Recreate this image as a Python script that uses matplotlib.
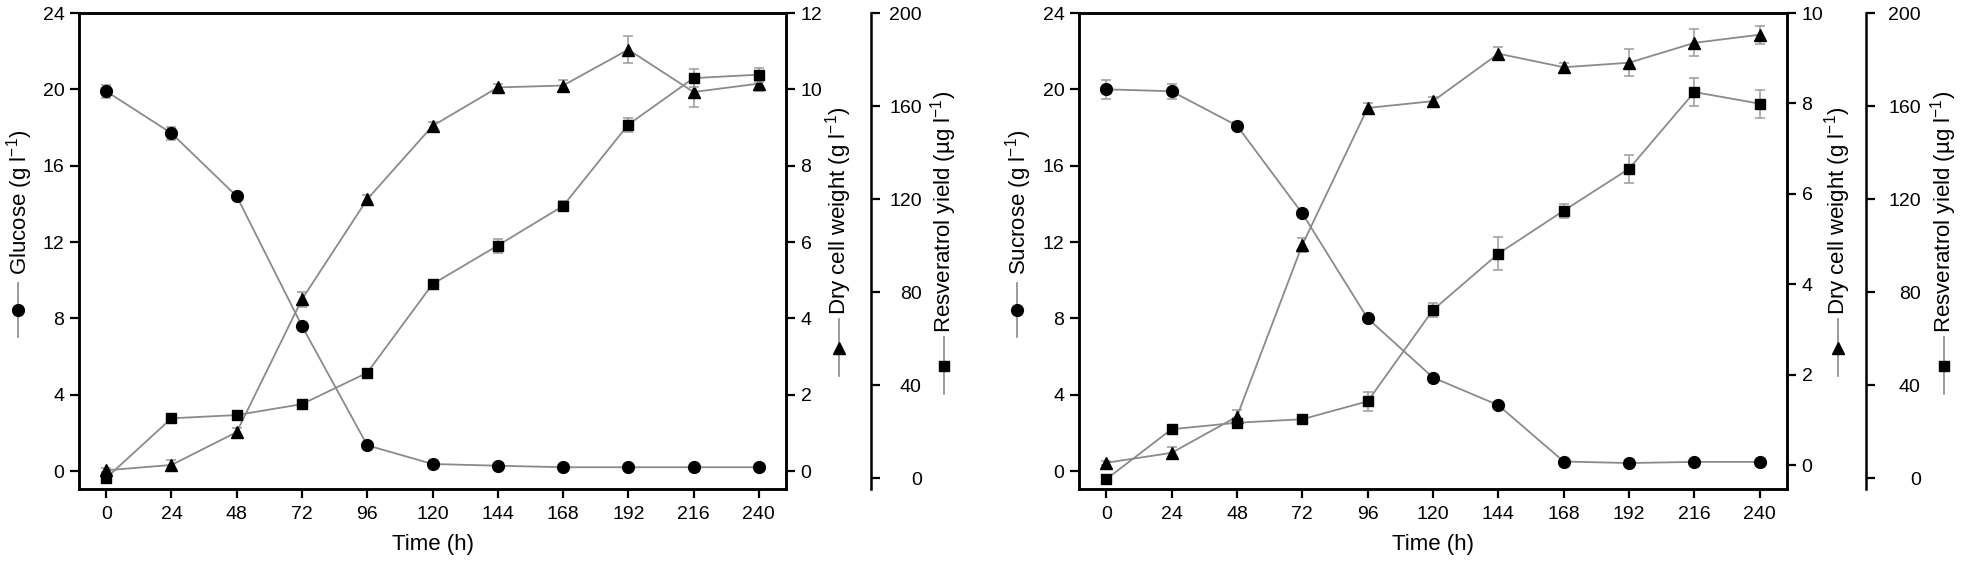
import matplotlib
matplotlib.use("Agg")
import matplotlib.pyplot as plt
from matplotlib.lines import Line2D
import numpy as np

plt.rcParams['font.family'] = ['Liberation Sans', 'DejaVu Sans']
plt.rcParams['mathtext.fontset'] = 'custom'
plt.rcParams['mathtext.rm'] = 'Liberation Sans'
plt.rcParams['mathtext.it'] = 'Liberation Sans'

# ---------------- data ----------------
time_h = [0, 24, 48, 72, 96, 120, 144, 168, 192, 216, 240]
time_ticks = [0, 24, 48, 72, 96, 120, 144, 168, 192, 216, 240]

# Panel A: glucose
glucose = [19.9, 17.7, 14.4, 7.6, 1.35, 0.37, 0.28, 0.2, 0.2, 0.2, 0.2]
glucose_err = [0.35, 0.35, 0.15, 0.15, 0.1, 0.05, 0.05, 0.05, 0.05, 0.05, 0.05]
dcw_a = [0.02, 0.16, 1.02, 4.5, 7.12, 9.04, 10.05, 10.1, 11.04, 9.93, 10.15]
dcw_a_err = [0.05, 0.12, 0.12, 0.2, 0.12, 0.1, 0.1, 0.15, 0.35, 0.4, 0.2]
res_a = [0.0, 25.7, 27.1, 31.8, 45.3, 83.4, 100.0, 117.0, 152.0, 172.0, 173.5]
res_a_err = [0.5, 1.0, 1.0, 1.2, 1.2, 1.5, 3.0, 2.0, 3.0, 4.0, 3.0]

# Panel B: sucrose
sucrose = [20.0, 19.9, 18.1, 13.5, 8.0, 4.9, 3.45, 0.5, 0.42, 0.48, 0.48]
sucrose_err = [0.5, 0.4, 0.2, 0.2, 0.1, 0.2, 0.15, 0.1, 0.1, 0.1, 0.1]
dcw_b = [0.05, 0.27, 1.07, 4.87, 7.9, 8.05, 9.1, 8.8, 8.9, 9.34, 9.52]
dcw_b_err = [0.05, 0.12, 0.15, 0.15, 0.1, 0.1, 0.15, 0.1, 0.3, 0.3, 0.2]
res_b = [-0.5, 21.0, 23.8, 25.3, 33.0, 72.3, 96.5, 115.0, 133.0, 166.0, 161.0]
res_b_err = [0.5, 1.0, 1.5, 1.5, 4.0, 3.0, 7.0, 3.0, 6.0, 6.0, 6.0]

sugar_ticks = [0, 4, 8, 12, 16, 20, 24]
dcw_a_ticks = [0, 2, 4, 6, 8, 10, 12]
dcw_b_ticks = [0, 2, 4, 6, 8, 10]
res_ticks = [0, 40, 80, 120, 160, 200]

W, H = 1961, 562
fig = plt.figure(figsize=(W / 100, H / 100), dpi=100)

LINE_C = '#8a8a8a'
TICK_FS = 14
LAB_FS = 16


def px(x, y):
    return x / W, 1 - y / H


def series(ax, y, err, marker, ms):
    ax.errorbar(time_h, y, yerr=err, fmt='-', color=LINE_C, lw=1.3,
                marker=marker, ms=ms, mfc='black', mec='black',
                ecolor='#9a9a9a', elinewidth=1.1, capsize=3.5, capthick=1.1,
                zorder=3)


def key(x, y0, y1, marker, ms):
    fx, fy0 = px(x, y0)
    _, fy1 = px(x, y1)
    fig.add_artist(Line2D([fx, fx], [fy0, fy1], transform=fig.transFigure,
                          color=LINE_C, lw=1.2))
    fig.add_artist(Line2D([fx], [(fy0 + fy1) / 2], transform=fig.transFigure,
                          marker=marker, ms=ms, color='black', lw=0))


def panel(left, right, sugar, sugar_err, sugar_name, dcw, dcw_err, dcw_ylim,
          dcw_ticks, res, res_err, third_x, res_pad, labx):
    x0, y1 = px(left, 13)
    x1, y0 = px(right, 489)
    ax = fig.add_axes([x0, y0, x1 - x0, y1 - y0])
    ax2 = ax.twinx()
    ax3 = ax.twinx()
    ax3.spines['right'].set_position(('axes', (third_x - left) / (right - left)))
    for s in ['top', 'bottom', 'left']:
        ax3.spines[s].set_visible(False)

    for a in (ax, ax2, ax3):
        for s in a.spines.values():
            s.set_linewidth(1.8)
        a.tick_params(direction='out', length=6.5, width=1.6, labelsize=TICK_FS, pad=4)
        a.patch.set_visible(False)

    ax.set_xlim(-10, 250)
    ax.set_xticks(time_ticks)
    ax.set_ylim(-0.94, 24)
    ax.set_yticks(sugar_ticks)
    ax2.set_ylim(*dcw_ylim)
    ax2.set_yticks(dcw_ticks)
    ax3.set_ylim(-4.7, 200)
    ax3.set_yticks(res_ticks)
    ax3.tick_params(axis='y', pad=res_pad)
    for lbl in ax3.get_yticklabels():
        lbl.set_horizontalalignment('right')
    ax.tick_params(axis='x', pad=6)

    series(ax, sugar, sugar_err, 'o', 8.5)
    series(ax2, dcw, dcw_err, '^', 9)
    series(ax3, res, res_err, 's', 7)

    ax.set_xlabel('Time (h)', fontsize=LAB_FS, labelpad=8)

    # rotated axis labels with legend keys
    gx, dx, rx = labx
    fig.text(*px(gx, 202), sugar_name + r' (g l$^{-1}$)', rotation=90,
             ha='center', va='center', fontsize=LAB_FS)
    key(gx - 2, 283, 337, 'o', 8.5)
    fig.text(*px(dx, 211), r'Dry cell weight (g l$^{-1}$)', rotation=90,
             ha='center', va='center', fontsize=LAB_FS)
    key(dx, 319, 376, '^', 9)
    fig.text(*px(rx, 212), 'Resveratrol yield (\u00b5g l$^{-1}$)', rotation=90,
             ha='center', va='center', fontsize=LAB_FS)
    key(rx, 337, 394, 's', 7)
    return ax


panel(79, 786, glucose, glucose_err, 'Glucose', dcw_a, dcw_a_err, (-0.47, 12),
      dcw_a_ticks, res_a, res_a_err, 871, 30, (19.5, 839, 944))
panel(1079, 1787, sucrose, sucrose_err, 'Sucrose', dcw_b, dcw_b_err, (-0.53, 10),
      dcw_b_ticks, res_b, res_b_err, 1866, 33, (1019, 1838, 1944))

fig.savefig('out.png', dpi=100)
